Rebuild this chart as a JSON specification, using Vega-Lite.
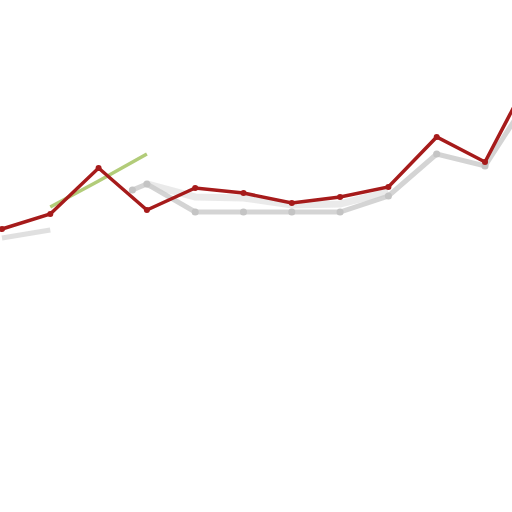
{
  "$schema": "https://vega.github.io/schema/vega-lite/v6.json",
  "width": 512,
  "height": 512,
  "autosize": {"type": "fit", "contains": "padding"},
  "padding": 0,
  "config": {"view": {"stroke": null}},
  "datasets": {
    "red": [
      {"i": 0, "v": 283}, {"i": 1, "v": 298}, {"i": 2, "v": 344}, {"i": 3, "v": 302},
      {"i": 4, "v": 324}, {"i": 5, "v": 319}, {"i": 6, "v": 309}, {"i": 7, "v": 315},
      {"i": 8, "v": 325}, {"i": 9, "v": 375}, {"i": 10, "v": 350}, {"i": 11, "v": 442}
    ],
    "grayLeft": [
      {"i": 0, "v": 274}, {"i": 1, "v": 282}
    ],
    "gray": [
      {"i": 2.7, "v": 322}, {"i": 3, "v": 328},
      {"i": 4, "v": 300}, {"i": 5, "v": 300}, {"i": 6, "v": 300}, {"i": 7, "v": 300},
      {"i": 8, "v": 316}, {"i": 9, "v": 358}, {"i": 10, "v": 346}, {"i": 11, "v": 421}
    ],
    "band": [
      {"i": 3, "v": 328}, {"i": 4, "v": 315}, {"i": 5, "v": 314}, {"i": 6, "v": 307},
      {"i": 7, "v": 308}, {"i": 8, "v": 320}
    ],
    "green": [
      {"i": 1, "v": 305}, {"i": 2, "v": 331}, {"i": 3, "v": 358}
    ]
  },
  "layer": [
    {
      "data": {"name": "band"},
      "mark": {"type": "line", "color": "#d8d8d8", "strokeWidth": 7, "opacity": 0.55, "clip": true},
      "encoding": {
        "x": {"field": "i", "type": "quantitative", "scale": {"domain": [-0.041, 10.559]}, "axis": null},
        "y": {"field": "v", "type": "quantitative", "scale": {"domain": [0, 512]}, "axis": null}
      }
    },
    {
      "data": {"name": "grayLeft"},
      "mark": {"type": "line", "color": "#cccccc", "strokeWidth": 5, "opacity": 0.6, "clip": true},
      "encoding": {
        "x": {"field": "i", "type": "quantitative", "scale": {"domain": [-0.041, 10.559]}, "axis": null},
        "y": {"field": "v", "type": "quantitative", "scale": {"domain": [0, 512]}, "axis": null}
      }
    },
    {
      "data": {"name": "gray"},
      "mark": {"type": "line", "color": "#c9c9c9", "strokeWidth": 5, "opacity": 0.8, "clip": true,
               "point": {"filled": true, "color": "#c4c4c4", "size": 50}},
      "encoding": {
        "x": {"field": "i", "type": "quantitative", "scale": {"domain": [-0.041, 10.559]}, "axis": null},
        "y": {"field": "v", "type": "quantitative", "scale": {"domain": [0, 512]}, "axis": null}
      }
    },
    {
      "data": {"name": "green"},
      "mark": {"type": "line", "color": "#aac66a", "strokeWidth": 3.5, "opacity": 0.9, "clip": true},
      "encoding": {
        "x": {"field": "i", "type": "quantitative", "scale": {"domain": [-0.041, 10.559]}, "axis": null},
        "y": {"field": "v", "type": "quantitative", "scale": {"domain": [0, 512]}, "axis": null}
      }
    },
    {
      "data": {"name": "red"},
      "mark": {"type": "line", "color": "#a61b1b", "strokeWidth": 3.5, "clip": true,
               "point": {"filled": true, "color": "#a61b1b", "size": 36}},
      "encoding": {
        "x": {"field": "i", "type": "quantitative", "scale": {"domain": [-0.041, 10.559]}, "axis": null},
        "y": {"field": "v", "type": "quantitative", "scale": {"domain": [0, 512]}, "axis": null}
      }
    }
  ]
}
